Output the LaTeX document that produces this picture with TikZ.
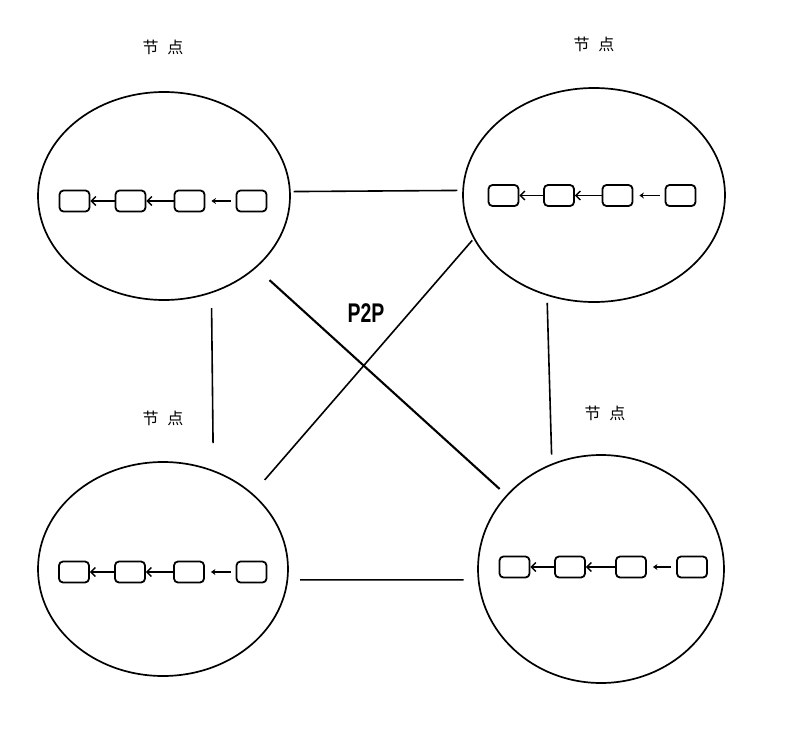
\documentclass[tikz,border=0pt]{standalone}
\usepackage{fontspec}
\setmainfont{Liberation Sans}
\newfontfamily\cjk{Noto Sans CJK SC}
\usetikzlibrary{shapes.geometric,arrows.meta}
\begin{document}
\begin{tikzpicture}[x=1pt,y=-1pt,
  circ/.style={ellipse,draw,line width=1.7pt,inner sep=0pt},
  box/.style={draw,rounded corners=4pt,line width=1.8pt,minimum width=30pt,minimum height=21pt,inner sep=0pt},
  link/.style={line width=1.6pt},
  chain/.style={line width=1.4pt,-{Straight Barb[length=4.5pt,width=9pt,line width=1.4pt]}},
  shortarr/.style={line width=1.4pt,-{Stealth[length=4.5pt,width=6pt]}},
  lbl/.style={font=\cjk\fontsize{16}{16}\selectfont}
]
\useasboundingbox (0,0) rectangle (788,744);

% circles
\node[circ,minimum width=252pt,minimum height=208pt] (tl) at (164,196) {};
\node[circ,minimum width=262pt,minimum height=214pt] (tr) at (594,195) {};
\node[circ,minimum width=250pt,minimum height=214pt] (bl) at (163,569) {};
\node[circ,minimum width=246pt,minimum height=228pt] (br) at (601,569) {};

% boxes TL
\node[box] (tl1) at (74.5,201) {};
\node[box] (tl2) at (130.5,201) {};
\node[box] (tl3) at (189.5,201) {};
\node[box] (tl4) at (251.5,201) {};
% boxes TR
\node[box] (tr1) at (503.5,195.5) {};
\node[box] (tr2) at (559,195.5) {};
\node[box] (tr3) at (617.5,195.5) {};
\node[box] (tr4) at (680.5,195.5) {};
% boxes BL
\node[box] (bl1) at (74,572) {};
\node[box] (bl2) at (130,572) {};
\node[box] (bl3) at (189,572) {};
\node[box] (bl4) at (251.5,572) {};
% boxes BR
\node[box] (br1) at (514.5,567) {};
\node[box] (br2) at (570,567) {};
\node[box] (br3) at (631,567) {};
\node[box] (br4) at (692,567) {};

% chain arrows
\foreach \p in {tl,tr,bl,br}{
  \draw[chain] (\p2) -- (\p1);
  \draw[chain] (\p3) -- (\p2);
  \draw[shortarr,shorten <=5pt,shorten >=6pt] (\p4) -- (\p3);
}

% labels
\node[lbl] (ltl) at (163,47) {节\hspace{9pt}点};
\node[lbl] (ltr) at (594,44) {节\hspace{9pt}点};
\node[lbl] (lbl) at (163,418) {节\hspace{9pt}点};
\node[lbl] (lbr) at (605,413) {节\hspace{9pt}点};
\node[font=\fontsize{27}{27}\selectfont\bfseries] (p2p) at (366,313) {\scalebox{0.72}[1]{P2P}};

% links
\draw[link,shorten <=3pt,shorten >=5pt] (tl.2) -- (tr.178);
\draw[link,shorten <=12pt,shorten >=14pt] (bl.-5) -- (br.185);
\draw[link,shorten <=15pt,shorten >=27pt] (tl.-64) -- (bl.63);
\draw[link,shorten <=7pt,shorten >=9pt] (tr.-115) -- (br.115);
\draw[link,line width=2.1pt,shorten <=18pt,shorten >=9pt] (tl.-38) -- (br.142);
\draw[link,shorten <=2pt,shorten >=18pt] (tr.200) -- (bl.40);
\end{tikzpicture}
\end{document}
